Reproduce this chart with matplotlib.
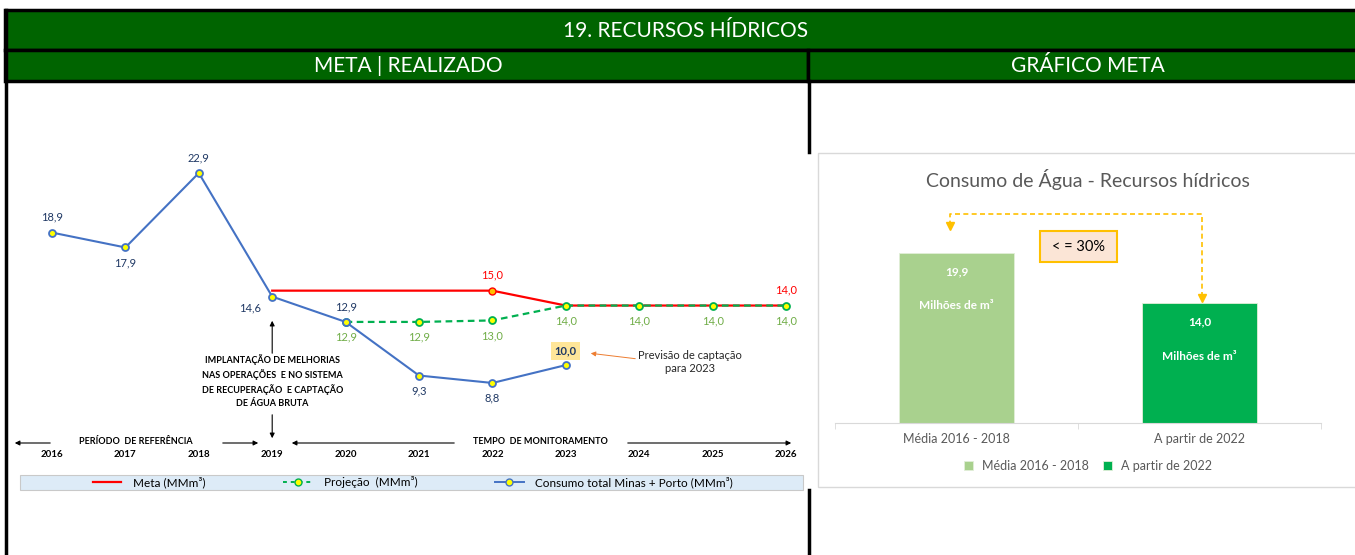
import matplotlib.pyplot as plt
from matplotlib.patches import Rectangle
from matplotlib.lines import Line2D

plt.rcParams['font.family'] = ['Lato', 'DejaVu Sans']

# dados - meta | realizado (MMm³)
anos = [2016, 2017, 2018, 2019, 2020, 2021, 2022, 2023, 2024, 2025, 2026]
anos_consumo = anos[:8]
consumo = [18.9, 17.9, 22.9, 14.6, 12.9, 9.3, 8.8, 10.0]
anos_meta = anos[3:]
meta = [15.0, 15.0, 15.0, 15.0, 14.0, 14.0, 14.0, 14.0]
anos_proj = anos[4:]
projecao = [12.9, 12.9, 13.0, 14.0, 14.0, 14.0, 14.0]

# dados - gráfico meta
categorias = ['Média 2016 - 2018', 'A partir de 2022']
valores_meta = [19.9, 14.0]
cores_meta = ['#A9D18E', '#00B050']

W, H = 1355, 555
VERDE = '#006400'
AZUL = '#4472C4'
AZUL_TXT = '#1F3864'
VERDE_TXT = '#70AD47'
CINZA = '#595959'


def ret(x0, y0, x1, y1):
    # retângulo em pixels (origem no topo) -> coordenadas da figura
    return [x0 / W, 1 - y1 / H, (x1 - x0) / W, (y1 - y0) / H]


def br(v):
    return f'{v:.1f}'.replace('.', ',')


fig = plt.figure(figsize=(W / 100, H / 100), dpi=100)

# moldura e cabeçalhos
bg = fig.add_axes([0, 0, 1, 1])
bg.set_xlim(0, W)
bg.set_ylim(H, 0)
bg.axis('off')
bg.add_patch(Rectangle((5, 10), 1360, 40, facecolor=VERDE, edgecolor='black', lw=2.5))
bg.add_patch(Rectangle((5, 50), 803, 31, facecolor=VERDE, edgecolor='black', lw=2.5))
bg.add_patch(Rectangle((808, 50), 560, 31, facecolor=VERDE, edgecolor='black', lw=2.5))
bg.text(686, 31, '19. RECURSOS HÍDRICOS', color='white', fontsize=15,
        ha='center', va='center')
bg.text(408, 66, 'META | REALIZADO', color='white', fontsize=15,
        ha='center', va='center')
bg.text(1088, 66, 'GRÁFICO META', color='white', fontsize=15,
        ha='center', va='center')
bg.plot([6, 6], [10, 555], color='black', lw=2.5)
bg.plot([809, 809], [81, 152], color='black', lw=2.5)
bg.plot([809, 809], [490, 555], color='black', lw=2.5)
bg.add_patch(Rectangle((20, 475), 783, 15, facecolor='#DDEBF7', edgecolor='#C9C9C9', lw=0.8))
bg.add_patch(Rectangle((818, 153), 560, 334, facecolor='white', edgecolor='#D9D9D9', lw=1))
bg.text(1088, 180, 'Consumo de Água - Recursos hídricos', color=CINZA, fontsize=14,
        ha='center', va='center')

# gráfico de linhas
ax = fig.add_axes(ret(8, 82, 808, 446))
ax.set_facecolor('none')
ax.set_xlim(2016 + (8 - 52) / 73.4, 2016 + (808 - 52) / 73.4)
ax.set_ylim((514 - 446) / 14.89, (514 - 82) / 14.89)
for s in ax.spines.values():
    s.set_visible(False)
ax.set_yticks([])
ax.set_xticks(anos)
ax.set_xticklabels([str(a) for a in anos], fontsize=7, fontweight='bold')
ax.tick_params(axis='x', length=0, pad=3)

ax.plot(anos_meta, meta, color='#FF0000', lw=1.6, zorder=2,
        marker='o', markersize=5, markerfacecolor='#FFC000', markeredgecolor='#FF0000',
        markevery=[3])
ax.plot(anos_proj, projecao, color='#00B050', lw=1.6, ls=(0, (3, 2)), zorder=3,
        marker='o', markersize=5, markerfacecolor='#FFFF00', markeredgecolor='#00B050',
        markeredgewidth=1.3)
ax.plot(anos_consumo, consumo, color=AZUL, lw=1.5, zorder=4,
        marker='o', markersize=5, markerfacecolor='#FFFF00', markeredgecolor=AZUL,
        markeredgewidth=1.3)

# rótulos de consumo
desloc = [(0, 11), (0, -11), (0, 11), (-16, -8), (0, 11), (0, -11), (0, -11)]
for a, v, d in zip(anos_consumo, consumo, desloc):
    ax.annotate(br(v), (a, v), xytext=d, textcoords='offset points',
                ha='center', va='center', fontsize=8, color=AZUL_TXT)
ax.annotate(br(consumo[-1]), (anos_consumo[-1], consumo[-1]), xytext=(0, 10),
            textcoords='offset points', ha='center', va='center', fontsize=8,
            fontweight='bold', color=AZUL_TXT,
            bbox=dict(boxstyle='square,pad=0.3', facecolor='#FFE699', edgecolor='none'))
for a, v in zip(anos_proj, projecao):
    ax.annotate(br(v), (a, v), xytext=(0, -11), textcoords='offset points',
                ha='center', va='center', fontsize=8, color=VERDE_TXT)
for i in (3, 7):
    ax.annotate(br(meta[i]), (anos_meta[i], meta[i]), xytext=(0, 11),
                textcoords='offset points', ha='center', va='center',
                fontsize=8, color='#FF0000')

# anotações
seta = dict(arrowstyle='-|>', color='black', lw=0.8, mutation_scale=7)


def yv(py):
    return (514 - py) / 14.89


def xa(px):
    return 2016 + (px - 52) / 73.4


ax.annotate('', xy=(2019, yv(318)), xytext=(2019, yv(356)), arrowprops=seta)
ax.text(2019, yv(381), 'IMPLANTAÇÃO DE MELHORIAS\nNAS OPERAÇÕES  E NO SISTEMA\n'
        'DE RECUPERAÇÃO  E CAPTAÇÃO\nDE ÁGUA BRUTA', ha='center', va='center',
        fontsize=6.5, fontweight='bold', linespacing=1.45)
ax.annotate('', xy=(2019, yv(441)), xytext=(2019, yv(412)), arrowprops=seta)

ax.annotate('', xy=(xa(12), yv(443)), xytext=(xa(53), yv(443)), arrowprops=seta)
ax.annotate('', xy=(xa(261), yv(443)), xytext=(xa(220), yv(443)), arrowprops=seta)
ax.text(xa(136), yv(441), 'PERÍODO  DE REFERÊNCIA', ha='center', va='center',
        fontsize=6.5, fontweight='bold')
ax.annotate('', xy=(xa(289), yv(443)), xytext=(xa(457), yv(443)), arrowprops=seta)
ax.annotate('', xy=(xa(794), yv(443)), xytext=(xa(625), yv(443)), arrowprops=seta)
ax.text(xa(540), yv(441), 'TEMPO  DE MONITORAMENTO', ha='center', va='center',
        fontsize=6.5, fontweight='bold')

ax.text(xa(690), yv(362), 'Previsão de captação\npara 2023', ha='center', va='center',
        fontsize=8, color='#262626', linespacing=1.3)
ax.annotate('', xy=(xa(588), yv(353)), xytext=(xa(638), yv(359)),
            arrowprops=dict(arrowstyle='-|>', color='#ED7D31', lw=0.7, mutation_scale=7))

ax.legend(handles=[
    Line2D([], [], color='#FF0000', lw=1.6),
    Line2D([], [], color='#00B050', lw=1.4, ls=(0, (2, 2)), marker='o', markersize=5,
           markerfacecolor='#FFFF00', markeredgecolor='#00B050'),
    Line2D([], [], color=AZUL, lw=1.4, marker='o', markersize=5,
           markerfacecolor='#FFFF00', markeredgecolor=AZUL),
], labels=['Meta (MMm³)', 'Projeção  (MMm³)', 'Consumo total Minas + Porto (MMm³)'],
    ncol=3, frameon=False, loc='center', bbox_to_anchor=(413 / W, 1 - 482.5 / H),
    bbox_transform=fig.transFigure, fontsize=8.5, handlelength=2.4,
    handletextpad=1.0, columnspacing=6.6, borderpad=0)

# gráfico meta (barras)
ax2 = fig.add_axes(ret(835, 200, 1321, 423))
ax2.set_facecolor('none')
barras = ax2.bar(range(len(categorias)), valores_meta, width=0.475, color=cores_meta,
                 edgecolor='#E2EFD9', lw=0.6, label=categorias)
ax2.set_xlim(-0.5, 1.5)
ax2.set_ylim(0, 223 / 8.55)
for s in ['top', 'left', 'right']:
    ax2.spines[s].set_visible(False)
ax2.spines['bottom'].set_color('#D9D9D9')
ax2.set_yticks([])
ax2.set_xticks(range(len(categorias)))
ax2.set_xticklabels(categorias, fontsize=9, color=CINZA)
ax2.set_xticks([-0.5, 0.5, 1.5], minor=True)
ax2.tick_params(axis='x', which='major', length=0, pad=7)
ax2.tick_params(axis='x', which='minor', length=4, color='#D9D9D9')

for i, v in enumerate(valores_meta):
    ax2.text(i, v - 2.2, br(v), ha='center', va='center', fontsize=8.5,
             fontweight='bold', color='white')
    ax2.text(i, v - 6.2, 'Milhões de m³', ha='center', va='center', fontsize=8.5,
             fontweight='bold', color='white')

# seta tracejada de redução
ax2.plot([1.01, 1.01, -0.025, -0.025], [14.7, 24.4, 24.4, 23.3], color='#FFC000',
         lw=1.2, ls=(0, (3, 2)))
ax2.plot([1.01, -0.025], [14.6, 23.0], ls='none', marker='v', markersize=6,
         color='#FFC000')
ax2.add_patch(Rectangle((0.5 - 0.158, 20.6 - 1.8), 0.317, 3.6, facecolor='#FBE5D6',
                        edgecolor='#FFC000', lw=1.5))
ax2.text(0.5, 20.6, '< = 30%', ha='center', va='center', fontsize=10.5, color='black')

ax2.legend(handles=list(barras), labels=categorias, ncol=2, frameon=False, loc='center',
           bbox_to_anchor=(1088 / W, 1 - 466 / H), bbox_transform=fig.transFigure,
           fontsize=9, labelcolor=CINZA, handlelength=0.7, handleheight=0.7,
           handletextpad=0.7, columnspacing=1.2)

fig.savefig('out.png', dpi=100)
